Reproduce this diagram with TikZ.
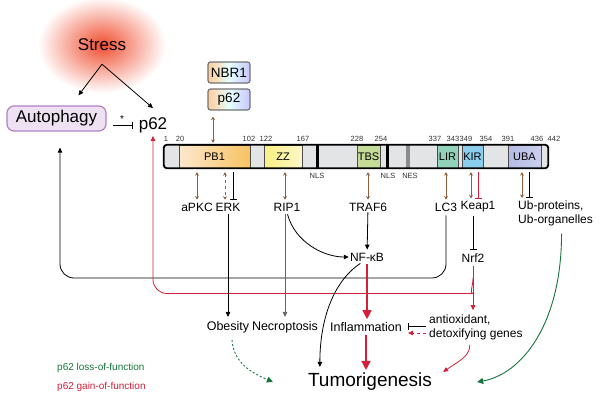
\documentclass[tikz,border=0pt]{standalone}
\usepackage{fontspec}
\setmainfont{Liberation Sans}
\usetikzlibrary{arrows.meta,positioning,calc}

\definecolor{gofred}{RGB}{212,30,58}
\definecolor{lofgreen}{RGB}{22,118,60}
\definecolor{bindbrown}{RGB}{142,96,62}
\definecolor{autoedge}{RGB}{178,128,200}
\definecolor{autofill}{RGB}{238,226,242}
\definecolor{bargray}{RGB}{226,228,230}
\definecolor{stressred}{RGB}{240,78,48}
\definecolor{pbleft}{RGB}{252,232,206}
\definecolor{pbright}{RGB}{247,194,96}
\definecolor{zzleft}{RGB}{250,238,130}
\definecolor{zzright}{RGB}{252,248,200}
\definecolor{tbsfill}{RGB}{196,220,152}
\definecolor{lirfill}{RGB}{146,210,186}
\definecolor{kirfill}{RGB}{140,205,238}
\definecolor{ubafill}{RGB}{180,186,228}

\begin{document}
\begin{tikzpicture}[
        x=1pt, y=-1pt,
        big/.style={font=\fontsize{17}{20}\selectfont, inner sep=1pt},
        prot/.style={font=\fontsize{12}{14}\selectfont, inner sep=1pt},
        outcome/.style={font=\fontsize{12.5}{15}\selectfont, inner sep=1pt},
        num/.style={font=\fontsize{7.5}{8}\selectfont, text=black!80, inner sep=0pt},
        dom/.style={draw=black!70, line width=0.5pt, minimum height=23pt, inner sep=0pt, font=\fontsize{11}{12}\selectfont},
        minibox/.style={draw=black!55, line width=1.2pt, rounded corners=2.5pt, minimum width=42pt, minimum height=21pt, inner sep=0pt,
            left color=orange!40, right color=blue!22, middle color=cyan!10, font=\fontsize{13.5}{15}\selectfont},
        act/.style={line width=0.8pt, -{Triangle[length=5pt,width=4.5pt]}},
        inh/.style={line width=0.8pt, -{Bar[width=7pt]}},
        dbl/.style={bindbrown, line width=0.9pt, {Stealth[length=3.5pt,width=4pt]}-{Stealth[length=3.5pt,width=4pt]}},
        gof/.style={gofred, line width=0.8pt, -{Triangle[length=5pt,width=4.5pt]}},
        gofbig/.style={gofred, line width=1.4pt, -{Triangle[length=9pt,width=9pt]}},
        lof/.style={lofgreen, line width=0.9pt, -{Triangle[length=6pt,width=6pt]}},
        legend/.style={font=\fontsize{10}{12}\selectfont, inner sep=0pt, anchor=west},
    ]
    \useasboundingbox (0,0) rectangle (600,400);

    % stress glow
    \shade[inner color=stressred, outer color=white] (102,45) ellipse (64pt and 48pt);
    \node[big] (stress) at (102,45) {Stress};
    \node[big, draw=autoedge, fill=autofill, line width=1.2pt, rounded corners=7pt,
          minimum width=99pt, minimum height=25pt] (autophagy) at (56.5,118.5) {Autophagy};
    \node[big] (p62) at (153,125) {p62};

    \draw[act] ([yshift=-12pt]stress.south) -- ([xshift=22pt,yshift=10pt]autophagy.north);
    \draw[act] ([yshift=-12pt]stress.south) -- ([yshift=8pt]p62.north);
    \draw[inh, shorten <=6pt, shorten >=5pt] (autophagy.east |- p62.west) -- (p62.west)
        node[midway, above=-1pt, font=\fontsize{10}{10}\selectfont] {*};

    % domain bar
    \node[fill=bargray, minimum width=384pt, minimum height=23pt, inner sep=0pt] (bar) at (356,156.5) {};
    \draw[black!70, line width=0.5pt] (179,145) -- (179,168);
    \node[dom, minimum width=71pt, left color=pbleft, right color=pbright] (pb1) at (214.5,156.5) {PB1};
    \node[dom, minimum width=38pt, left color=zzleft, right color=zzright] (zz) at (283,156.5) {ZZ};
    \node[dom, minimum width=23pt, fill=tbsfill] (tbs) at (368.5,156.5) {TBS};
    \node[dom, minimum width=21pt, fill=lirfill] (lir) at (447.5,156.5) {LIR};
    \node[dom, minimum width=21pt, fill=kirfill] (kir) at (472.5,156.5) {KIR};
    \node[dom, minimum width=33pt, left color=ubafill, right color=ubafill!70] (uba) at (524.5,156.5) {UBA};
    \fill (315.5,145) rectangle ++(3,23);
    \fill (385.5,145) rectangle ++(3,23);
    \fill[black!45] (406,145) rectangle ++(4,23);
    \draw[line width=1.8pt, rounded corners=3pt] (bar.north west) rectangle (bar.south east);

    \foreach \lab/\xx in {1/166,20/180,102/249,122/266,167/303,228/357,254/381,337/435,343/453,349/466,354/486,391/508,436/537,442/554}
        \node[num] (pos\lab) at (\xx,139) {\lab};
    \node[num] (nls1) at (317,176) {NLS};
    \node[num] (nls2) at (388,176) {NLS};
    \node[num] (nes) at (410,176) {NES};

    \node[minibox] (nbr1) at (229,72.5) {NBR1};
    \node[minibox] (mini62) at (229,99.5) {p62};
    \draw[dbl, shorten <=6pt, shorten >=2pt] ([xshift=-16pt]mini62.south) -- ([xshift=-16pt]mini62.south |- bar.north);

    % binding partners
    \node[prot] (apkc) at (197,207) {aPKC};
    \node[prot] (erk) at (228,207) {ERK};
    \node[prot] (rip1) at (287,207) {RIP1};
    \node[prot] (traf6) at (368,207) {TRAF6};
    \node[prot] (lc3) at (446,207) {LC3};
    \node[prot] (keap1) at (478,207) {Keap1};
    \node[prot, align=left, anchor=north west] (ub) at (517,200) {Ub-proteins,\\Ub-organelles};

    \draw[dbl, shorten <=4pt, shorten >=2pt] (bar.south -| apkc) -- (apkc);
    \draw[dbl, dashed, shorten <=4pt, shorten >=2pt] ($(bar.south -| erk)+(-3,0)$) -- ($(erk.north)+(-3,0)$);
    \draw[inh, shorten <=4pt, shorten >=2pt] ($(bar.south -| erk)+(5,0)$) -- ($(erk.north)+(5,0)$);
    \draw[dbl, shorten <=4pt, shorten >=2pt] ($(bar.south -| rip1)+(-2,0)$) -- ($(rip1.north)+(-2,0)$);
    \draw[dbl, shorten <=4pt, shorten >=2pt] (bar.south -| traf6) -- (traf6);
    \draw[dbl, shorten <=4pt, shorten >=2pt] (bar.south -| lc3) -- (lc3);
    \draw[dbl, shorten <=4pt, shorten >=2pt] ($(bar.south -| keap1)+(-7,0)$) -- ($(keap1.north)+(-7,0)$);
    \draw[inh, gofred, shorten <=4pt, shorten >=2pt] (bar.south -| keap1) -- (keap1);
    \draw[dbl, shorten <=4pt, shorten >=2pt] ($(bar.south -| uba)+(-2.5,0)$) -- ($(uba |- ub.north)+(-2.5,0)$);
    \draw[inh, shorten <=4pt, shorten >=2pt] ($(bar.south -| uba)+(4.5,0)$) -- ($(uba |- ub.north)+(4.5,0)$);

    % signalling
    \node[prot] (nfkb) at (367,257) {NF-κB};
    \node[prot] (nrf2) at (473,258) {Nrf2};
    \node[outcome] (obesity) at (228,327) {Obesity};
    \node[outcome] (necro) at (285,327) {Necroptosis};
    \node[outcome] (inflam) at (366,327) {Inflammation};
    \node[prot, align=left, anchor=west] (antiox) at (428,327) {antioxidant,\\detoxifying genes};
    \node[font=\fontsize{19}{22}\selectfont, inner sep=1pt] (tumor) at (370,382) {Tumorigenesis};
    \node[legend, text=lofgreen] (leglof) at (57,368) {p62 loss-of-function};
    \node[legend, text=gofred] (leggof) at (57,387) {p62 gain-of-function};

    \coordinate (autoloop) at (60,278);
    \draw[act, rounded corners=14pt, shorten <=3pt, shorten >=16pt] (lc3) |- (autoloop) -- (autophagy.south -| autoloop);
    \draw[gof, rounded corners=14pt, shorten >=2pt]
        ($(nrf2.south)+(0,14)$) .. controls +(0,10) and +(10,0) .. ($(nrf2.south)+(-14,30)$) -| (p62.south);

    \draw[act, shorten >=2pt] (traf6) -- (nfkb);
    \draw[act, shorten <=2pt] (rip1.south) .. controls +(8,30) and +(-25,0) .. (nfkb.west);
    \draw[act, black!60, shorten <=2pt, shorten >=3pt] (rip1.south -| necro) -- (necro);
    \draw[act, shorten <=2pt, shorten >=3pt] (erk) -- (obesity);
    \draw[inh, shorten <=2pt, shorten >=3pt] (keap1.south -| nrf2) -- (nrf2);

    \draw[gof, shorten <=2pt, shorten >=3pt] (nrf2) -- (nrf2 |- antiox.north);
    \draw[gofbig, shorten <=2pt, shorten >=2pt] (nfkb) -- (nfkb |- inflam.north);
    \draw[act, shorten <=2pt] ($(nfkb.south)+(-5,0)$) .. controls +(-30,20) and +(0,-45) .. ($(tumor.north west)+(13,-5)$);
    \draw[gofbig, shorten <=2pt, shorten >=2pt] (inflam) -- (inflam |- tumor.north);
    \draw[inh, shorten <=2pt, shorten >=5pt] ($(antiox.west)+(0,-1)$) -- ($(inflam.east)+(0,-1)$);
    \draw[gof, dashed, shorten <=2pt, shorten >=5pt] ($(antiox.west)+(0,6)$) -- ($(inflam.east)+(0,6)$);
    \draw[gof] ($(antiox.south)+(-6,4)$) .. controls +(0,12) and +(14,-10) .. ($(tumor.east)+(10,-10)$);
    \draw[lof] ($(ub.south)+(6,6)$) .. controls +(0,90) and +(45,-8) .. ($(tumor.east)+(44,0)$);
    \draw[lof, dash pattern=on 2pt off 2pt] ($(obesity.south)+(4,6)$) .. controls +(2,25) and +(-18,-8) .. ($(tumor.west)+(-34,0)$);

\end{tikzpicture}
\end{document}
